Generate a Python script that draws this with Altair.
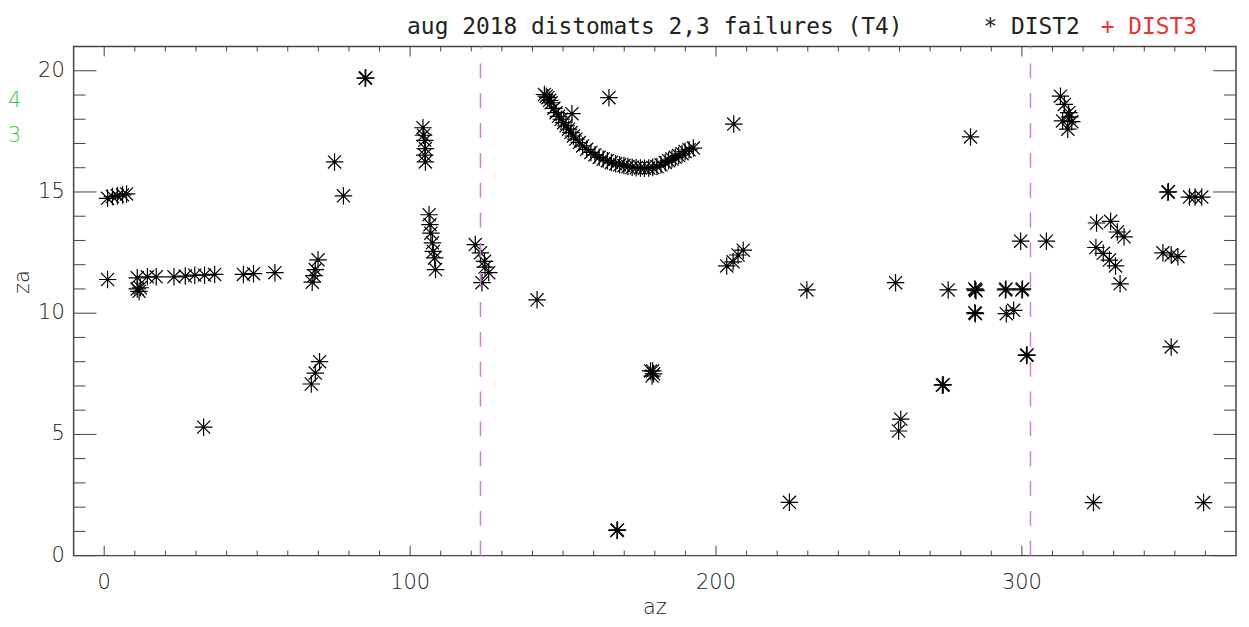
import altair as alt
import pandas as pd

# ---- data ----
az = [
    1.1, 2.7, 4.3, 6.0, 7.3,
    1.1,
    10.8, 11.4, 11.8, 10.8, 14.1, 17.0,
    22.8, 26.5, 29.6, 32.8, 36.1, 45.5, 48.8, 55.8,
    68.0, 69.0, 69.9, 68.6,
    67.7, 69.0, 70.4,
    32.5,
    75.3, 78.2, 85.3, 85.5,
    104.2, 104.4, 104.8, 105.0, 104.8, 105.0,
    106.2, 106.5, 106.8, 107.3, 107.6, 108.0, 108.3,
    121.3, 123.0, 124.3, 125.7, 123.5, 124.5,
    141.5,
    143.9, 144.5, 145.0, 145.6, 146.1, 147.0, 147.7, 148.5, 149.4, 150.2,
    151.0, 151.8, 152.6, 153.4, 154.2, 155.3, 156.4, 157.7, 159.1, 160.4,
    161.8, 163.1, 164.5, 165.8, 167.2, 168.5, 169.9, 171.2, 172.6, 173.9,
    175.3, 176.6, 178.0, 179.3, 180.7, 182.0, 183.4, 184.5, 185.6, 186.7,
    187.8, 188.9, 189.9, 191.2, 192.6, 152.9,
    165.0, 205.8,
    178.6, 179.3, 179.1, 179.6,
    167.8, 167.6,
    203.5, 205.6, 207.2, 208.9,
    229.7, 224.0,
    258.7, 259.7, 260.4,
    274.0, 274.3,
    275.9, 283.2,
    284.8, 284.6, 285.0, 284.8, 284.6,
    294.6, 294.8, 300.0, 300.2,
    294.9, 297.3,
    299.6, 308.0,
    301.5, 301.7,
    312.6, 313.9, 315.3, 313.3, 316.3, 315.0, 315.6,
    323.4,
    324.4, 329.0, 331.2, 333.4,
    324.2, 326.6, 328.6, 330.6, 332.1,
    346.1, 348.8, 351.0,
    347.7, 347.9,
    354.8, 356.6, 358.8,
    348.8,
    359.4,
]
za = [
    14.74, 14.81, 14.84, 14.88, 14.92,
    11.39,
    11.0, 10.9, 11.05, 11.46, 11.5, 11.5,
    11.50, 11.53, 11.57, 11.57, 11.6, 11.6, 11.63, 11.67,
    11.28, 11.8, 12.2, 11.55,
    7.08, 7.53, 8.0,
    5.3,
    16.24, 14.84, 19.69, 19.71,
    17.65, 17.34, 17.13, 16.79, 16.52, 16.24,
    14.06, 13.65, 13.3, 12.9, 12.55, 12.28, 11.8,
    12.83, 12.49, 12.14, 11.67, 11.26, 11.9,
    10.55,
    19.02, 18.95, 18.89, 18.78, 18.68, 18.45, 18.27, 18.12, 18.0, 17.86,
    17.73, 17.59, 17.45, 17.31, 17.18, 17.04, 16.9, 16.76, 16.63, 16.53,
    16.43, 16.36, 16.29, 16.22, 16.16, 16.12, 16.09, 16.05, 16.02, 16.0,
    15.99, 15.98, 15.99, 16.01, 16.05, 16.12, 16.22, 16.29, 16.36, 16.43,
    16.5, 16.58, 16.67, 16.74, 16.81, 18.23,
    18.89, 17.8,
    7.62, 7.62, 7.41, 7.5,
    1.06, 1.04,
    11.95, 12.12, 12.4, 12.6,
    10.96, 2.2,
    11.26, 5.14, 5.63,
    7.03, 7.05,
    10.96, 17.27,
    10.96, 11.0, 10.93, 9.98, 10.02,
    10.96, 11.0, 10.96, 11.0,
    9.98, 10.12,
    12.97, 12.97,
    8.26, 8.28,
    18.95, 18.61, 18.27, 17.93, 17.9, 17.59, 18.1,
    2.19,
    13.72, 13.79, 13.35, 13.15,
    12.71, 12.47, 12.19, 11.95, 11.21,
    12.49, 12.4, 12.33,
    14.99, 15.01,
    14.79, 14.79, 14.79,
    8.61,
    2.19,
]
marker_az = [123.0, 302.8]          # dashed vertical markers
x_major = [0, 100, 200, 300]
x_minor = [v for v in range(10, 361, 10) if v % 100 != 0]
y_major = [0, 5, 10, 15, 20]
y_minor = [v for v in range(1, 21) if v % 5 != 0]

title_text = "aug 2018  distomats 2,3 failures (T4)"
legend_labels = ["* DIST2", "+ DIST3"]
side_labels = ["4", "3"]
x_title, y_title = "az", "za"

# ---- layout ----
W, H = 1169, 512
XDOM, YDOM = [-10, 370], [0, 21]
AX = "#444444"
TXT = "#222222"
FONT = "DejaVu Sans"
MONO = "DejaVu Sans Mono"
FW = 200

xs = alt.Scale(domain=XDOM, nice=False, zero=False)
ys = alt.Scale(domain=YDOM, nice=False, zero=False)

pts = pd.DataFrame({"az": az, "za": za})
STAR = "M-1,0L1,0M0,-1L0,1M-0.75,-0.75L0.75,0.75M-0.75,0.75L0.75,-0.75"

points = alt.Chart(pts).mark_point(
    shape=STAR, size=310, filled=False, stroke="black", strokeWidth=1.2, opacity=1
).encode(
    x=alt.X("az:Q", scale=xs, axis=None),
    y=alt.Y("za:Q", scale=ys, axis=None),
)

markers = alt.Chart(pd.DataFrame({"m": marker_az})).mark_rule(
    color="#d47ccf", strokeWidth=1.5, strokeDash=[15, 15]
).encode(
    x=alt.X("m:Q", scale=xs, axis=None),
    y=alt.value(H), y2=alt.value(0),
)

def xticks(vals, length):
    df = pd.DataFrame({"t": vals})
    bot = alt.Chart(df).mark_rule(color=AX, strokeWidth=1).encode(
        x=alt.X("t:Q", scale=xs, axis=None), y=alt.value(H), y2=alt.value(H - length))
    top = alt.Chart(df).mark_rule(color=AX, strokeWidth=1).encode(
        x=alt.X("t:Q", scale=xs, axis=None), y=alt.value(0), y2=alt.value(length))
    return [bot, top]

def yticks(vals, length):
    df = pd.DataFrame({"t": vals})
    left = alt.Chart(df).mark_rule(color=AX, strokeWidth=1).encode(
        y=alt.Y("t:Q", scale=ys, axis=None), x=alt.value(0), x2=alt.value(length))
    right = alt.Chart(df).mark_rule(color=AX, strokeWidth=1).encode(
        y=alt.Y("t:Q", scale=ys, axis=None), x=alt.value(W), x2=alt.value(W - length))
    return [left, right]

ticks = xticks(x_major, 10) + xticks(x_minor, 5) + yticks(y_major, 23) + yticks(y_minor, 12)

# tick labels (drawn through the same scales)
xlab = alt.Chart(pd.DataFrame({"t": x_major})).mark_text(
    font=FONT, fontSize=21, fontWeight=FW, color=TXT, align="center", baseline="top"
).encode(x=alt.X("t:Q", scale=xs, axis=None), y=alt.value(H + 17),
         text=alt.Text("t:Q", format="d"))
ylab = alt.Chart(pd.DataFrame({"t": y_major})).mark_text(
    font=FONT, fontSize=21, fontWeight=FW, color=TXT, align="right", baseline="middle"
).encode(y=alt.Y("t:Q", scale=ys, axis=None), x=alt.value(-9),
         text=alt.Text("t:Q", format="d"))

xtitle = alt.Chart(pd.DataFrame({"t": [x_title]})).mark_text(
    font=FONT, fontSize=21, fontWeight=FW, color=TXT, align="center", baseline="alphabetic"
).encode(text="t:N", x=alt.value(W / 2), y=alt.value(H + 59))
ytitle = alt.Chart(pd.DataFrame({"t": [y_title]})).mark_text(
    font=FONT, fontSize=21, fontWeight=FW, color=TXT, align="center", baseline="middle", angle=270
).encode(text="t:N", x=alt.value(-51), y=alt.value(237))

title = alt.Chart(pd.DataFrame({"t": [title_text]})).mark_text(
    font=MONO, fontSize=23, color=TXT, align="center", baseline="alphabetic"
).encode(text="t:N", x=alt.value(W / 2), y=alt.value(-13))

leg2 = alt.Chart(pd.DataFrame({"t": [legend_labels[0]]})).mark_text(
    font=MONO, fontSize=23, color=TXT, align="left", baseline="alphabetic"
).encode(text="t:N", x=alt.value(915), y=alt.value(-13))
leg3 = alt.Chart(pd.DataFrame({"t": [legend_labels[1]]})).mark_text(
    font=MONO, fontSize=23, color="#ee3333", align="left", baseline="alphabetic"
).encode(text="t:N", x=alt.value(1033), y=alt.value(-13))

side4 = alt.Chart(pd.DataFrame({"t": [side_labels[0]]})).mark_text(
    font=FONT, fontSize=21, fontWeight=FW, color="#33cc33", align="left", baseline="middle"
).encode(text="t:N", x=alt.value(-66), y=alt.value(54.5))
side3 = alt.Chart(pd.DataFrame({"t": [side_labels[1]]})).mark_text(
    font=FONT, fontSize=21, fontWeight=FW, color="#33cc33", align="left", baseline="middle"
).encode(text="t:N", x=alt.value(-66), y=alt.value(90.5))

chart = alt.layer(
    points, markers, *ticks, xlab, ylab, xtitle, ytitle, title, leg2, leg3, side4, side3
).properties(
    width=W, height=H,
    autosize=alt.AutoSizeParams(type="none"),
    padding={"left": 66, "top": 37, "right": 5, "bottom": 62},
    background="white",
).configure_view(
    stroke=AX, strokeWidth=1.5
)

chart.save("out.html", embed_options={"renderer": "svg", "actions": False})
